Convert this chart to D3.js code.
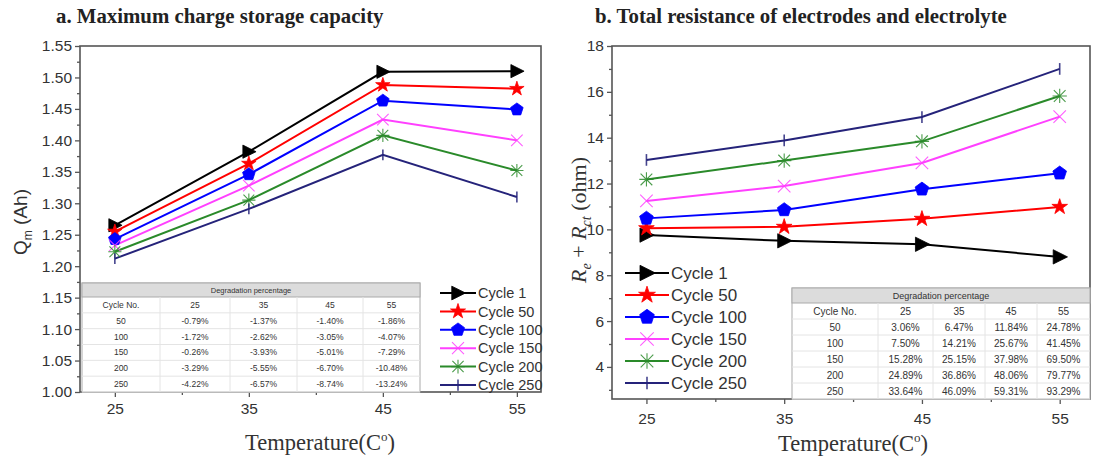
<!DOCTYPE html>
<html><head><meta charset="utf-8">
<script src="https://cdn.jsdelivr.net/npm/d3@7"></script>
<style>body{margin:0;background:#fff}svg{display:block}</style>
</head><body>
<script>
// ---------- DATA ----------
const temps = [25, 35, 45, 55];
const cycleNames = ["Cycle 1", "Cycle 50", "Cycle 100", "Cycle 150", "Cycle 200", "Cycle 250"];
// Panel a: maximum charge storage capacity Qm (Ah)
const qmCycle1   = [1.265, 1.382, 1.509, 1.510];
const qmCycle50  = [1.255, 1.363, 1.488, 1.482];
const qmCycle100 = [1.243, 1.346, 1.463, 1.449];
const qmCycle150 = [1.233, 1.328, 1.433, 1.400];
const qmCycle200 = [1.223, 1.305, 1.408, 1.352];
const qmCycle250 = [1.212, 1.291, 1.377, 1.310];
// Panel b: total resistance Re+Rct (ohm)
const rCycle1   = [9.75, 9.50, 9.35, 8.80];
const rCycle50  = [10.05, 10.11, 10.46, 10.98];
const rCycle100 = [10.48, 10.85, 11.75, 12.45];
const rCycle150 = [11.24, 11.89, 12.90, 14.92];
const rCycle200 = [12.18, 13.00, 13.84, 15.82];
const rCycle250 = [13.03, 13.88, 14.90, 17.00];
// Degradation tables
const tableCycles = ["50", "100", "150", "200", "250"];
const tableCols = ["Cycle No.", "25", "35", "45", "55"];
const degA = [
  ["-0.79%", "-1.37%", "-1.40%", "-1.86%"],
  ["-1.72%", "-2.62%", "-3.05%", "-4.07%"],
  ["-0.26%", "-3.93%", "-5.01%", "-7.29%"],
  ["-3.29%", "-5.55%", "-6.70%", "-10.48%"],
  ["-4.22%", "-6.57%", "-8.74%", "-13.24%"]
];
const degB = [
  ["3.06%", "6.47%", "11.84%", "24.78%"],
  ["7.50%", "14.21%", "25.67%", "41.45%"],
  ["15.28%", "25.15%", "37.98%", "69.50%"],
  ["24.89%", "36.86%", "48.06%", "79.77%"],
  ["33.64%", "46.09%", "59.31%", "93.29%"]
];
const yTicksA = [1.00, 1.05, 1.10, 1.15, 1.20, 1.25, 1.30, 1.35, 1.40, 1.45, 1.50, 1.55];
const yTicksB = [4, 6, 8, 10, 12, 14, 16, 18];
const xTicks = [25, 35, 45, 55];

const colors = ["#000000", "#ff0000", "#0000ff", "#ff40ff", "#2a8a2a", "#25237a"];
const markerTypes = ["tri", "star", "pent", "x", "ast", "bar"];

// ---------- DRAW ----------
const W = 1097, H = 462;
const svg = d3.select("body").append("svg").attr("width", W).attr("height", H);

function markerPath(type, s) {
  const p = d3.path();
  if (type === "tri") { p.moveTo(-s*0.5, -s*0.55); p.lineTo(s*0.6, 0); p.lineTo(-s*0.5, s*0.55); p.closePath(); return p.toString(); }
  if (type === "star") return d3.symbol(d3.symbolStar, s*s*0.45)();
  if (type === "pent") {
    const r = s*0.55;
    for (let i = 0; i < 5; i++) { const a = -Math.PI/2 + i*2*Math.PI/5; const x = r*Math.cos(a), y = r*Math.sin(a); i ? p.lineTo(x, y) : p.moveTo(x, y); }
    p.closePath(); return p.toString();
  }
  if (type === "x") { const r = s*0.48; p.moveTo(-r,-r); p.lineTo(r,r); p.moveTo(-r,r); p.lineTo(r,-r); return p.toString(); }
  if (type === "ast") { const r = s*0.45, q = s*0.55; p.moveTo(-r,-r); p.lineTo(r,r); p.moveTo(-r,r); p.lineTo(r,-r); p.moveTo(0,-q); p.lineTo(0,q); p.moveTo(-q,0); p.lineTo(q,0); return p.toString(); }
  if (type === "bar") { p.moveTo(0, -s*0.45); p.lineTo(0, s*0.45); return p.toString(); }
}
function drawMarker(g, type, color, x, y, s) {
  const filled = (type === "tri" || type === "star" || type === "pent");
  g.append("path").attr("d", markerPath(type, s)).attr("transform", `translate(${x},${y})`)
    .attr("fill", filled ? color : "none").attr("stroke", color)
    .attr("stroke-width", filled ? 0.8 : (type === "bar" ? 1.6 : 1.1))
    .attr("opacity", filled ? 1 : 0.85);
}

function panel(cfg) {
  const g = svg.append("g");
  const x = d3.scaleLinear().domain(cfg.xDom).range([cfg.x0, cfg.x1]);
  const y = d3.scaleLinear().domain(cfg.yDom).range([cfg.y1, cfg.y0]);

  // Title
  g.append("text").attr("x", cfg.titleX).attr("y", 23).text(cfg.title)
    .attr("font-family", "Liberation Serif, Times New Roman, serif").attr("font-weight", "bold")
    .attr("font-size", 20.8).attr("fill", "#222");

  // Frame
  g.append("rect").attr("x", cfg.x0).attr("y", cfg.y0).attr("width", cfg.x1 - cfg.x0).attr("height", cfg.y1 - cfg.y0)
    .attr("fill", "none").attr("stroke", "#555").attr("stroke-width", 1.6);

  // Axes
  const yAxis = d3.axisLeft(y).tickValues(cfg.yTicks).tickFormat(cfg.yFmt).tickSize(5).tickPadding(3);
  const ga = g.append("g").attr("transform", `translate(${cfg.x0},0)`).call(yAxis);
  const yMinor = d3.axisLeft(y).tickValues(cfg.yMinor).tickFormat("").tickSize(3);
  const gm = g.append("g").attr("transform", `translate(${cfg.x0},0)`).call(yMinor);
  const xAxis = d3.axisBottom(x).tickValues(xTicks).tickSize(5).tickPadding(cfg.xPad);
  const gx = g.append("g").attr("transform", `translate(0,${cfg.y1})`).call(xAxis);
  const xMinor = d3.axisBottom(x).tickValues([30, 40, 50]).tickFormat("").tickSize(3);
  const gxm = g.append("g").attr("transform", `translate(0,${cfg.y1})`).call(xMinor);
  [ga, gm, gx, gxm].forEach(a => {
    a.select(".domain").remove();
    a.selectAll("line").attr("stroke", "#555").attr("stroke-width", 1.3);
    a.selectAll("text").attr("font-family", "Liberation Sans, Arial, sans-serif").attr("font-size", 15.5).attr("fill", "#333");
  });

  // Series
  cfg.series.forEach((vals, i) => {
    const line = d3.line().x((d, j) => x(temps[j])).y(d => y(d));
    g.append("path").attr("d", line(vals)).attr("fill", "none").attr("stroke", colors[i]).attr("stroke-width", 2);
  });
  cfg.series.forEach((vals, i) => {
    vals.forEach((v, j) => drawMarker(g, markerTypes[i], colors[i], x(temps[j]), y(v), cfg.ms));
  });

  // Table
  const t = cfg.table;
  const tg = g.append("g").attr("font-family", "Liberation Sans, Arial, sans-serif").attr("fill", "#333");
  tg.append("rect").attr("x", t.x0).attr("y", t.y0).attr("width", t.x1 - t.x0).attr("height", cfg.y1 - t.y0)
    .attr("fill", "#fff").attr("stroke", "#aaa").attr("stroke-width", 1);
  tg.append("rect").attr("x", t.x0).attr("y", t.y0).attr("width", t.x1 - t.x0).attr("height", t.hh)
    .attr("fill", "#dcdcdc").attr("stroke", "#aaa").attr("stroke-width", 1);
  tg.append("text").attr("x", (t.x0 + t.x1) / 2).attr("y", t.y0 + t.hh / 2).attr("dy", "0.35em")
    .attr("text-anchor", "middle").attr("font-size", t.fs - 1).text("Degradation percentage");
  const rowH = (cfg.y1 - t.y0 - t.hh) / 6;
  for (let r = 1; r <= 6; r++) {
    tg.append("line").attr("x1", t.x0).attr("x2", t.x1)
      .attr("y1", t.y0 + t.hh + r * rowH).attr("y2", t.y0 + t.hh + r * rowH).attr("stroke", "#e4e4e4");
  }
  t.cols.slice(1).forEach(cx => tg.append("line").attr("x1", cx).attr("x2", cx)
    .attr("y1", t.y0 + t.hh).attr("y2", cfg.y1).attr("stroke", "#e4e4e4"));
  const colEdges = [t.x0, ...t.cols.slice(1), t.x1];
  const cellX = c => (colEdges[c] + colEdges[c + 1]) / 2;
  const rows = [tableCols, ...tableCycles.map((c, k) => [c, ...t.data[k]])];
  rows.forEach((row, r) => row.forEach((txt, c) => {
    tg.append("text").attr("x", cellX(c)).attr("y", t.y0 + t.hh + (r + 0.5) * rowH).attr("dy", "0.35em")
      .attr("text-anchor", "middle").attr("font-size", t.fs).text(txt);
  }));

  // Legend
  const L = cfg.legend;
  cycleNames.forEach((name, i) => {
    const ly = L.y + i * L.dy;
    g.append("line").attr("x1", L.x).attr("x2", L.x + L.len).attr("y1", ly).attr("y2", ly)
      .attr("stroke", colors[i]).attr("stroke-width", 2);
    drawMarker(g, markerTypes[i], colors[i], L.x + L.len / 2, ly, L.ms);
    g.append("text").attr("x", L.x + L.len + 2).attr("y", ly).attr("dy", "0.36em").text(name)
      .attr("font-family", "Liberation Sans, Arial, sans-serif").attr("font-size", L.fs).attr("fill", "#333");
  });

  // X title
  g.append("text").attr("x", cfg.xtX).attr("y", cfg.xtY).attr("text-anchor", "middle")
    .attr("font-family", "Liberation Serif, Times New Roman, serif").attr("font-size", 22.5).attr("fill", "#333")
    .call(s => { s.append("tspan").text("Temperature(C"); s.append("tspan").attr("dy", -9).attr("font-size", 13).text("o");
                 s.append("tspan").attr("dy", 9).text(")"); });
  return g;
}

// Panel a
const gA = panel({
  title: "a. Maximum  charge storage capacity", titleX: 56,
  x0: 80, x1: 541, y0: 46, y1: 392,
  xDom: [22.4, 56.8], yDom: [1.0, 1.55],
  yTicks: yTicksA, yFmt: d3.format(".2f"), yMinor: d3.range(1.025, 1.55, 0.05), xPad: 6, ms: 12,
  series: [qmCycle1, qmCycle50, qmCycle100, qmCycle150, qmCycle200, qmCycle250],
  table: { x0: 82, x1: 420, y0: 283, hh: 14, fs: 8.5, cols: [82, 160, 230, 297, 363], data: degA },
  legend: { x: 440, y: 293, dy: 18.4, len: 36, ms: 12.5, fs: 14.5 },
  xtX: 320, xtY: 450
});
gA.append("text").attr("transform", "translate(27,222) rotate(-90)").attr("text-anchor", "middle")
  .attr("font-family", "Liberation Sans, Arial, sans-serif").attr("font-size", 19).attr("fill", "#333")
  .call(s => { s.append("tspan").text("Q"); s.append("tspan").attr("dy", 5).attr("font-size", 12).text("m");
               s.append("tspan").attr("dy", -5).text(" (Ah)"); });

// Panel b
const gB = panel({
  title: "b. Total resistance of electrodes and electrolyte", titleX: 595,
  x0: 612, x1: 1090, y0: 46, y1: 399,
  xDom: [22.5, 57.2], yDom: [2.6, 18],
  yTicks: yTicksB, yFmt: d3.format("d"), yMinor: [3, 5, 7, 9, 11, 13, 15, 17], xPad: 9, ms: 13,
  series: [rCycle1, rCycle50, rCycle100, rCycle150, rCycle200, rCycle250],
  table: { x0: 792, x1: 1090, y0: 288, hh: 15, fs: 10, cols: [792, 878, 933, 985, 1037], data: degB },
  legend: { x: 625, y: 273, dy: 22, len: 44, ms: 14, fs: 17 },
  xtX: 853, xtY: 451
});
gB.append("text").attr("transform", "translate(586,220) rotate(-90)").attr("text-anchor", "middle")
  .attr("font-family", "Liberation Serif, Times New Roman, serif").attr("font-size", 22).attr("fill", "#333")
  .call(s => {
    s.append("tspan").attr("font-style", "italic").text("R");
    s.append("tspan").attr("font-style", "italic").attr("dy", 5).attr("font-size", 14).text("e");
    s.append("tspan").attr("dy", -5).text(" + ");
    s.append("tspan").attr("font-style", "italic").text("R");
    s.append("tspan").attr("font-style", "italic").attr("dy", 5).attr("font-size", 14).text("ct");
    s.append("tspan").attr("dy", -5).text(" (ohm)");
  });
</script>
</body></html>
